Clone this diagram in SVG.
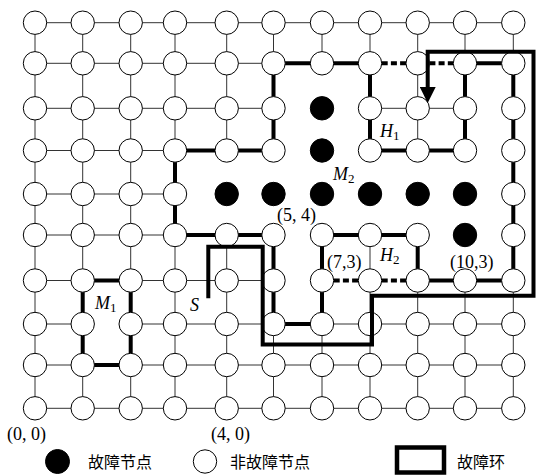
<svg xmlns="http://www.w3.org/2000/svg" width="536" height="475" viewBox="0 0 536 475">
<style>
.thin{fill:none;stroke:#333;stroke-width:1}
.thick{fill:none;stroke:#000;stroke-width:4;stroke-linejoin:miter}
.dash{fill:none;stroke:#000;stroke-width:4;stroke-dasharray:6 3.2}
.ring{fill:none;stroke:#000;stroke-width:4;stroke-linejoin:miter;stroke-linecap:butt}
circle{fill:#fff;stroke:#000;stroke-width:1}
circle.f{fill:#000}
text{font-family:"Liberation Serif","Noto Sans CJK SC",serif;font-size:18px;fill:#000}
.it{font-style:italic}
.cjk{font-family:"Noto Sans CJK SC","Liberation Serif",sans-serif;font-size:16px}
</style>
<defs>
<marker id="arr" markerUnits="userSpaceOnUse" viewBox="0 0 16 16" refX="0" refY="8" markerWidth="16" markerHeight="16" orient="auto">
<path d="M0,0 L16,8 L0,16 z" fill="#000"/>
</marker>
</defs>
<g id="connectors">
<path class="thin" d="M35 22.7H513.3 M35 63.3H273.5 M35 108.3H273.5 M370 108.3H465 M35 150.5H175 M35 194H175 M35 235H175 M35 280.5H82.7 M130.7 280.5H273.5 M35 324H82.7 M130.7 324H273.5 M322 324H513.3 M35 365H82.7 M130.7 365H513.3 M35 408.3H513.3"/>
<path class="thin" d="M35 22.7V408.3 M82.7 408.3V365 M82.7 280.5V22.7 M130.7 408.3V365 M130.7 280.5V22.7 M175 408.3V235 M175 150.5V22.7 M226.7 408.3V235 M226.7 150.5V22.7 M273.5 408.3V324 M273.5 63.3V22.7 M322 408.3V324 M322 63.3V22.7 M370 408.3V235 M370 63.3V22.7 M417.7 408.3V280.5 M417.7 150.5V22.7 M465 408.3V280.5 M465 63.3V22.7 M513.3 408.3V280.5 M513.3 63.3V22.7"/>
<path class="thick" d="M370 63.3H273.5V150.5H175V235H273.5V324H322V235H417.7V280.5H513.3V63.3H465"/>
<path class="thick" d="M370 63.3V150.5H465V63.3"/>
<path class="thick" d="M82.7 280.5H130.7V365H82.7Z"/>
<path class="dash" d="M381.7 63.3H406 M429.4 63.3H453.3 M333.7 280.5H358.3 M381.7 280.5H406"/>
</g>
<g id="nodes">
<g id="n0_9"><circle cx="35" cy="22.7" r="11.7"/></g>
<g id="n1_9"><circle cx="82.7" cy="22.7" r="11.7"/></g>
<g id="n2_9"><circle cx="130.7" cy="22.7" r="11.7"/></g>
<g id="n3_9"><circle cx="175" cy="22.7" r="11.7"/></g>
<g id="n4_9"><circle cx="226.7" cy="22.7" r="11.7"/></g>
<g id="n5_9"><circle cx="273.5" cy="22.7" r="11.7"/></g>
<g id="n6_9"><circle cx="322" cy="22.7" r="11.7"/></g>
<g id="n7_9"><circle cx="370" cy="22.7" r="11.7"/></g>
<g id="n8_9"><circle cx="417.7" cy="22.7" r="11.7"/></g>
<g id="n9_9"><circle cx="465" cy="22.7" r="11.7"/></g>
<g id="n10_9"><circle cx="513.3" cy="22.7" r="11.7"/></g>
<g id="n0_8"><circle cx="35" cy="63.3" r="11.7"/></g>
<g id="n1_8"><circle cx="82.7" cy="63.3" r="11.7"/></g>
<g id="n2_8"><circle cx="130.7" cy="63.3" r="11.7"/></g>
<g id="n3_8"><circle cx="175" cy="63.3" r="11.7"/></g>
<g id="n4_8"><circle cx="226.7" cy="63.3" r="11.7"/></g>
<g id="n5_8"><circle cx="273.5" cy="63.3" r="11.7"/></g>
<g id="n6_8"><circle cx="322" cy="63.3" r="11.7"/></g>
<g id="n7_8"><circle cx="370" cy="63.3" r="11.7"/></g>
<g id="n8_8"><circle cx="417.7" cy="63.3" r="11.7"/></g>
<g id="n9_8"><circle cx="465" cy="63.3" r="11.7"/></g>
<g id="n10_8"><circle cx="513.3" cy="63.3" r="11.7"/></g>
<g id="n0_7"><circle cx="35" cy="108.3" r="11.7"/></g>
<g id="n1_7"><circle cx="82.7" cy="108.3" r="11.7"/></g>
<g id="n2_7"><circle cx="130.7" cy="108.3" r="11.7"/></g>
<g id="n3_7"><circle cx="175" cy="108.3" r="11.7"/></g>
<g id="n4_7"><circle cx="226.7" cy="108.3" r="11.7"/></g>
<g id="n5_7"><circle cx="273.5" cy="108.3" r="11.7"/></g>
<g id="n6_7"><circle class="f" cx="322" cy="108.3" r="11.7"/></g>
<g id="n7_7"><circle cx="370" cy="108.3" r="11.7"/></g>
<g id="n8_7"><circle cx="417.7" cy="108.3" r="11.7"/></g>
<g id="n9_7"><circle cx="465" cy="108.3" r="11.7"/></g>
<g id="n10_7"><circle cx="513.3" cy="108.3" r="11.7"/></g>
<g id="n0_6"><circle cx="35" cy="150.5" r="11.7"/></g>
<g id="n1_6"><circle cx="82.7" cy="150.5" r="11.7"/></g>
<g id="n2_6"><circle cx="130.7" cy="150.5" r="11.7"/></g>
<g id="n3_6"><circle cx="175" cy="150.5" r="11.7"/></g>
<g id="n4_6"><circle cx="226.7" cy="150.5" r="11.7"/></g>
<g id="n5_6"><circle cx="273.5" cy="150.5" r="11.7"/></g>
<g id="n6_6"><circle class="f" cx="322" cy="150.5" r="11.7"/></g>
<g id="n7_6"><circle cx="370" cy="150.5" r="11.7"/></g>
<g id="n8_6"><circle cx="417.7" cy="150.5" r="11.7"/></g>
<g id="n9_6"><circle cx="465" cy="150.5" r="11.7"/></g>
<g id="n10_6"><circle cx="513.3" cy="150.5" r="11.7"/></g>
<g id="n0_5"><circle cx="35" cy="194" r="11.7"/></g>
<g id="n1_5"><circle cx="82.7" cy="194" r="11.7"/></g>
<g id="n2_5"><circle cx="130.7" cy="194" r="11.7"/></g>
<g id="n3_5"><circle cx="175" cy="194" r="11.7"/></g>
<g id="n4_5"><circle class="f" cx="226.7" cy="194" r="11.7"/></g>
<g id="n5_5"><circle class="f" cx="273.5" cy="194" r="11.7"/></g>
<g id="n6_5"><circle class="f" cx="322" cy="194" r="11.7"/></g>
<g id="n7_5"><circle class="f" cx="370" cy="194" r="11.7"/></g>
<g id="n8_5"><circle class="f" cx="417.7" cy="194" r="11.7"/></g>
<g id="n9_5"><circle class="f" cx="465" cy="194" r="11.7"/></g>
<g id="n10_5"><circle cx="513.3" cy="194" r="11.7"/></g>
<g id="n0_4"><circle cx="35" cy="235" r="11.7"/></g>
<g id="n1_4"><circle cx="82.7" cy="235" r="11.7"/></g>
<g id="n2_4"><circle cx="130.7" cy="235" r="11.7"/></g>
<g id="n3_4"><circle cx="175" cy="235" r="11.7"/></g>
<g id="n4_4"><circle cx="226.7" cy="235" r="11.7"/></g>
<g id="n5_4"><circle cx="273.5" cy="235" r="11.7"/></g>
<g id="n6_4"><circle cx="322" cy="235" r="11.7"/></g>
<g id="n7_4"><circle cx="370" cy="235" r="11.7"/></g>
<g id="n8_4"><circle cx="417.7" cy="235" r="11.7"/></g>
<g id="n9_4"><circle class="f" cx="465" cy="235" r="11.7"/></g>
<g id="n10_4"><circle cx="513.3" cy="235" r="11.7"/></g>
<g id="n0_3"><circle cx="35" cy="280.5" r="11.7"/></g>
<g id="n1_3"><circle cx="82.7" cy="280.5" r="11.7"/></g>
<g id="n2_3"><circle cx="130.7" cy="280.5" r="11.7"/></g>
<g id="n3_3"><circle cx="175" cy="280.5" r="11.7"/></g>
<g id="n4_3"><circle cx="226.7" cy="280.5" r="11.7"/></g>
<g id="n5_3"><circle cx="273.5" cy="280.5" r="11.7"/></g>
<g id="n6_3"><circle cx="322" cy="280.5" r="11.7"/></g>
<g id="n7_3"><circle cx="370" cy="280.5" r="11.7"/></g>
<g id="n8_3"><circle cx="417.7" cy="280.5" r="11.7"/></g>
<g id="n9_3"><circle cx="465" cy="280.5" r="11.7"/></g>
<g id="n10_3"><circle cx="513.3" cy="280.5" r="11.7"/></g>
<g id="n0_2"><circle cx="35" cy="324" r="11.7"/></g>
<g id="n1_2"><circle cx="82.7" cy="324" r="11.7"/></g>
<g id="n2_2"><circle cx="130.7" cy="324" r="11.7"/></g>
<g id="n3_2"><circle cx="175" cy="324" r="11.7"/></g>
<g id="n4_2"><circle cx="226.7" cy="324" r="11.7"/></g>
<g id="n5_2"><circle cx="273.5" cy="324" r="11.7"/></g>
<g id="n6_2"><circle cx="322" cy="324" r="11.7"/></g>
<g id="n7_2"><circle cx="370" cy="324" r="11.7"/></g>
<g id="n8_2"><circle cx="417.7" cy="324" r="11.7"/></g>
<g id="n9_2"><circle cx="465" cy="324" r="11.7"/></g>
<g id="n10_2"><circle cx="513.3" cy="324" r="11.7"/></g>
<g id="n0_1"><circle cx="35" cy="365" r="11.7"/></g>
<g id="n1_1"><circle cx="82.7" cy="365" r="11.7"/></g>
<g id="n2_1"><circle cx="130.7" cy="365" r="11.7"/></g>
<g id="n3_1"><circle cx="175" cy="365" r="11.7"/></g>
<g id="n4_1"><circle cx="226.7" cy="365" r="11.7"/></g>
<g id="n5_1"><circle cx="273.5" cy="365" r="11.7"/></g>
<g id="n6_1"><circle cx="322" cy="365" r="11.7"/></g>
<g id="n7_1"><circle cx="370" cy="365" r="11.7"/></g>
<g id="n8_1"><circle cx="417.7" cy="365" r="11.7"/></g>
<g id="n9_1"><circle cx="465" cy="365" r="11.7"/></g>
<g id="n10_1"><circle cx="513.3" cy="365" r="11.7"/></g>
<g id="n0_0"><circle cx="35" cy="408.3" r="11.7"/></g>
<g id="n1_0"><circle cx="82.7" cy="408.3" r="11.7"/></g>
<g id="n2_0"><circle cx="130.7" cy="408.3" r="11.7"/></g>
<g id="n3_0"><circle cx="175" cy="408.3" r="11.7"/></g>
<g id="n4_0"><circle cx="226.7" cy="408.3" r="11.7"/></g>
<g id="n5_0"><circle cx="273.5" cy="408.3" r="11.7"/></g>
<g id="n6_0"><circle cx="322" cy="408.3" r="11.7"/></g>
<g id="n7_0"><circle cx="370" cy="408.3" r="11.7"/></g>
<g id="n8_0"><circle cx="417.7" cy="408.3" r="11.7"/></g>
<g id="n9_0"><circle cx="465" cy="408.3" r="11.7"/></g>
<g id="n10_0"><circle cx="513.3" cy="408.3" r="11.7"/></g>
</g>
<g id="fault-ring">
<path class="ring" d="M208.3 298.3V246.7H262.7V344.5H372V295.7H533.5V51.7H427.7V87" marker-end="url(#arr)"/>
</g>
<g id="labels">
<text x="7" y="440">(0, 0)</text>
<text x="211" y="440">(4, 0)</text>
<text x="277" y="221">(5, 4)</text>
<text x="327" y="268">(7,3)</text>
<text x="450" y="268">(10,3)</text>
<text x="380" y="137"><tspan class="it">H</tspan><tspan font-size="13" dy="3">1</tspan></text>
<text x="333" y="180"><tspan class="it">M</tspan><tspan font-size="13" dy="3">2</tspan></text>
<text x="380" y="261"><tspan class="it">H</tspan><tspan font-size="13" dy="3">2</tspan></text>
<text x="95" y="309"><tspan class="it">M</tspan><tspan font-size="13" dy="3">1</tspan></text>
<text class="it" x="190" y="311">S</text>
</g>
<g id="legend">
<circle class="f" cx="57.5" cy="461.5" r="12"/>
<text class="cjk" x="88" y="467.5">故障节点</text>
<circle cx="205" cy="461.5" r="11.7"/>
<text class="cjk" x="230" y="467.5">非故障节点</text>
<rect x="397" y="447.5" width="47" height="25" fill="#fff" stroke="#000" stroke-width="4.5"/>
<text class="cjk" x="457" y="467.5">故障环</text>
</g>
</svg>
